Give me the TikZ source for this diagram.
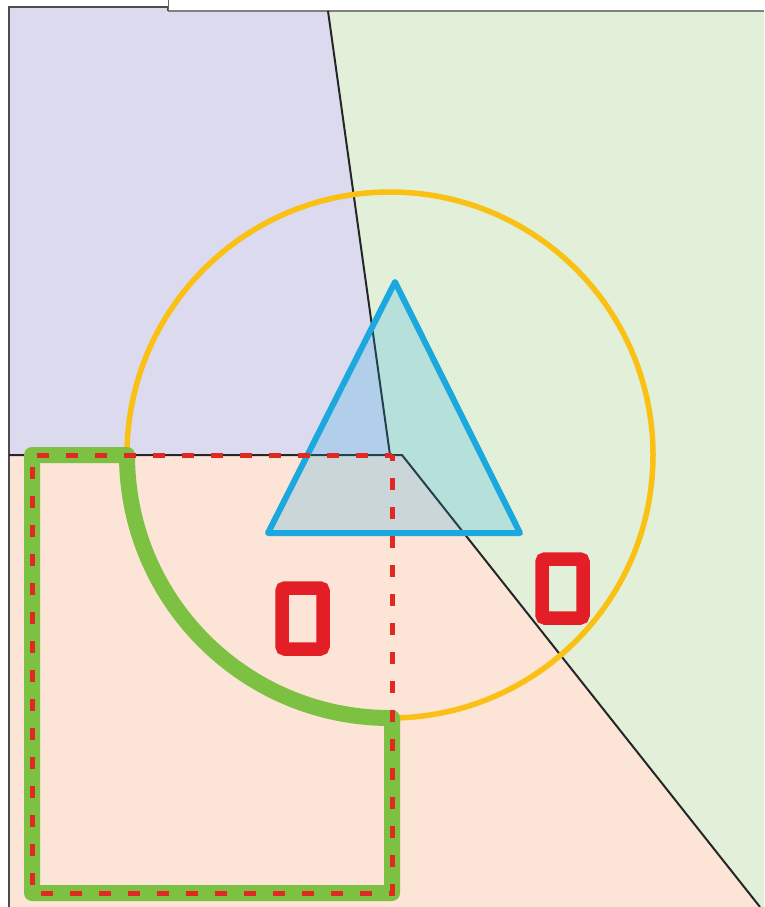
\documentclass[tikz,border=0pt]{standalone}
\begin{document}
\begin{tikzpicture}[x=1pt,y=-1pt,
  border/.style={draw=black!70,line width=2.6pt},
  divider/.style={draw=black!85,line width=2pt},
  ring/.style={draw=ringyellow,line width=5.5pt},
  greenpath/.style={draw=pathgreen,line width=16pt,line join=round,line cap=round},
  reddash/.style={draw=dashred,line width=5pt,dash pattern=on 12pt off 17pt},
  tri/.style={draw=triblue,line width=6pt,line join=round,fill=triblue,fill opacity=0.22},
  smallbox/.style={draw=boxred,line width=13.5pt,rounded corners=3pt}]
\definecolor{lav}{RGB}{220,218,238}
\definecolor{lgreen}{RGB}{226,240,218}
\definecolor{peach}{RGB}{252,228,214}
\definecolor{ringyellow}{RGB}{250,192,20}
\definecolor{pathgreen}{RGB}{124,193,66}
\definecolor{dashred}{RGB}{225,40,35}
\definecolor{triblue}{RGB}{26,168,222}
\definecolor{boxred}{RGB}{228,30,38}
\useasboundingbox (0,0) rectangle (764,907);
\fill[white] (0,0) rectangle (764,907);
% regions
\coordinate (tl) at (9,7);
\coordinate (step1) at (168,7);
\coordinate (step2) at (168,11);
\coordinate (topdiv) at (328,11);
\coordinate (tr) at (764,11);
\coordinate (br) at (764,907);
\coordinate (botdiv) at (760,907);
\coordinate (midv) at (390,455);
\coordinate (midd) at (402,455);
\coordinate (ml) at (9,455);
\coordinate (bl) at (9,907);
\fill[lav] (tl) -- (step1) -- (step2) -- (topdiv) -- (midv) -- (ml) -- cycle;
\fill[lgreen] (topdiv) -- (tr) -- (br) -- (botdiv) -- (midd) -- (midv) -- cycle;
\fill[peach] (ml) -- (midd) -- (botdiv) -- (bl) -- cycle;
% frame lines
\draw[border] (bl) -- (tl) -- (step1) -- (step2);
\draw[draw=black!50,line width=2.4pt] (step2) -- (tr);
\draw[draw=black!60,line width=1pt] (168,0) -- (step2);
% dividers
\draw[divider] (topdiv) -- (midv);
\draw[divider] (ml) -- (midd) -- (botdiv);
% circle
\coordinate (c) at (390,455);
\draw[ring] (c) circle[radius=263];
% green path
\coordinate (cl) at (127,455);
\coordinate (cb) at (390,718);
\draw[greenpath] (cl) -- (32,455) -- (32,893) -- (392,893) -- (392,718) -- (cb) arc[start angle=90,end angle=180,radius=263];
% triangle
\node[coordinate] (apex) at (395,282) {};
\node[coordinate] (bL) at (268,533) {};
\node[coordinate] (bR) at (520,533) {};
\draw[tri] (apex) -- (bL) -- (bR) -- cycle;
% red dashed
\draw[reddash,dash phase=5pt] (392,455) -- (32,455) -- (32,893) -- (392,893) -- cycle;
% small boxes
\node[smallbox,minimum width=41pt,minimum height=61pt,inner sep=0pt] (boxA) at (302.5,618.5) {};
\node[smallbox,minimum width=41pt,minimum height=59pt,inner sep=0pt] (boxB) at (562.5,588.5) {};
\end{tikzpicture}
\end{document}
